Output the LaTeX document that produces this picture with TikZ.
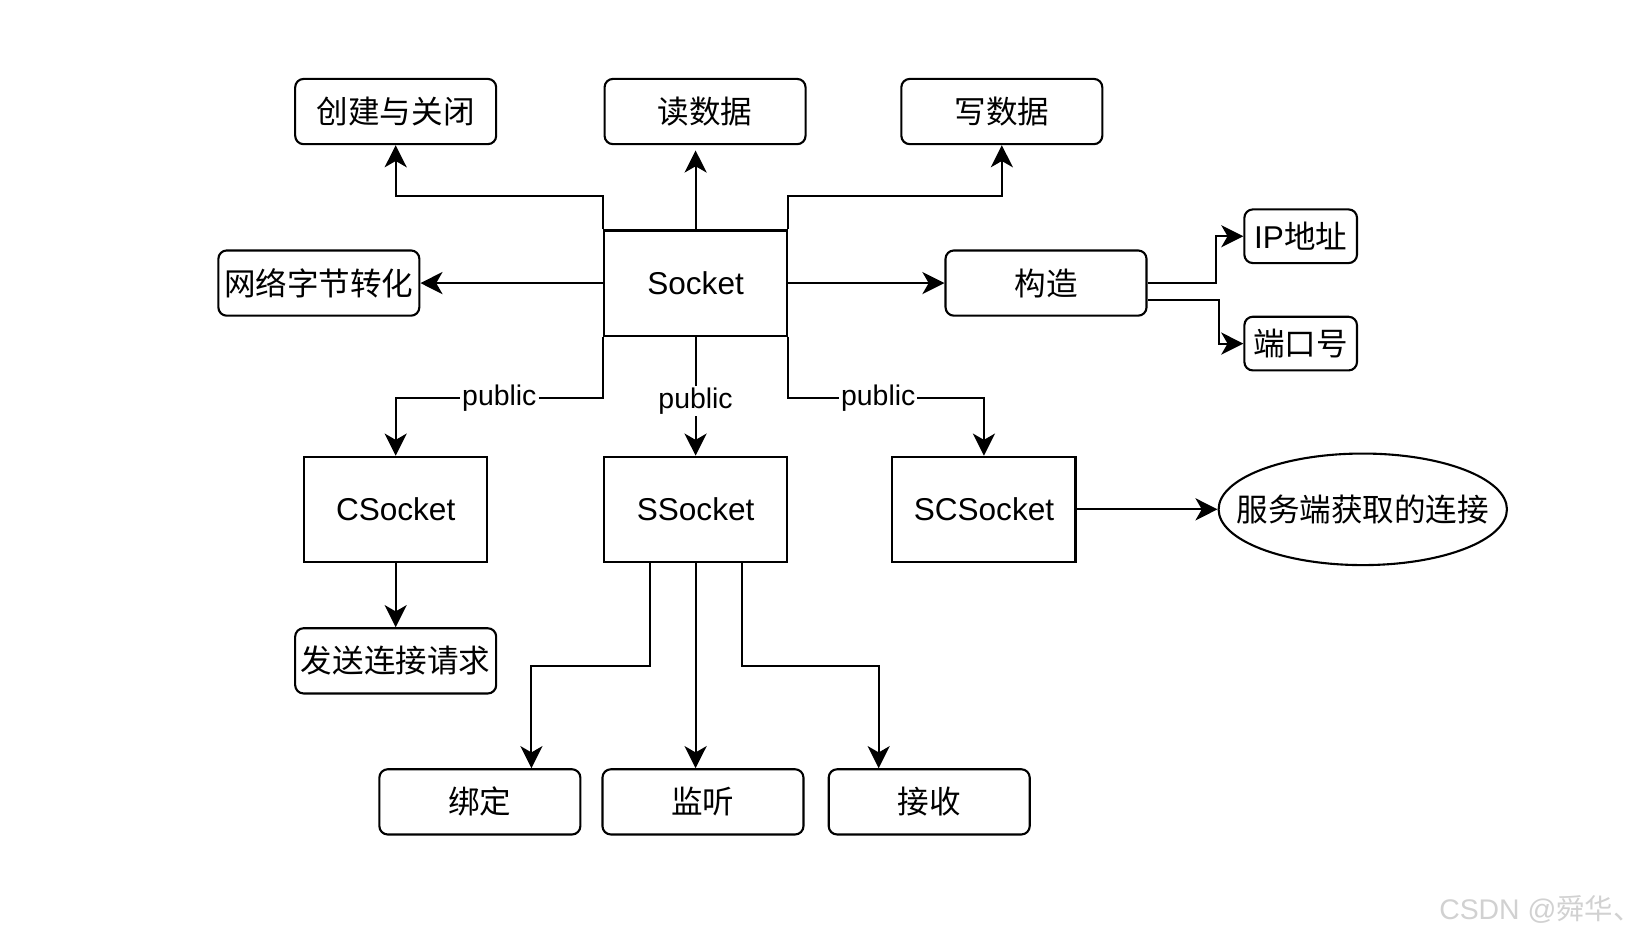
\documentclass[tikz,border=0pt]{standalone}
\usepackage{fontspec}
\setmainfont{Liberation Sans}
\newfontfamily\cjk{Noto Sans CJK SC}
\usetikzlibrary{arrows.meta,shapes.geometric}

\begin{document}
\begin{tikzpicture}[x=0.5pt, y=-0.5pt, line width=1pt,
  >={Stealth[length=10.5pt,width=10.5pt,inset=3pt]},
  rbox/.style={draw, rounded corners=4pt, minimum width=95.5pt, minimum height=31pt, inner sep=0pt, font=\fontsize{15}{18}\selectfont},
  cls/.style={draw, minimum width=87pt, minimum height=50pt, inner sep=0pt, font=\fontsize{15}{18}\selectfont},
  sbox/.style={rbox, minimum width=53.5pt, minimum height=25.5pt},
  lbl/.style={fill=white, inner sep=1pt, font=\fontsize{13.5}{16}\selectfont}]
\useasboundingbox (0,0) rectangle (1567,892);

\node[cls] (sock) at (661,269) {Socket};
\node[rbox] (cjgb) at (376,106) {\cjk 创建与关闭};
\node[rbox] (dsj) at (670,106) {\cjk 读数据};
\node[rbox] (xsj) at (952,106) {\cjk 写数据};
\node[rbox] (wl) at (303,269) {\cjk 网络字节转化};
\node[rbox] (gz) at (994,269) {\cjk 构造};
\node[sbox] (ip) at (1236,224.5) {IP{\cjk 地址}};
\node[sbox] (port) at (1236,326.5) {\cjk 端口号};

\node[cls] (cs) at (376,484) {CSocket};
\node[cls] (ss) at (661,484) {SSocket};
\node[cls] (scs) at (935,484) {SCSocket};
\node[draw, ellipse, minimum width=137pt, minimum height=53pt, inner xsep=-12pt, inner ysep=0pt, font=\fontsize{15}{18}\selectfont] (conn) at (1295,484) {\cjk 服务端获取的连接};

\node[rbox] (send) at (376,628) {\cjk 发送连接请求};
\node[rbox] (bind) at (456,762) {\cjk 绑定};
\node[rbox] (lis) at (668,762) {\cjk 监听};
\node[rbox] (recv) at (883,762) {\cjk 接收};

\draw[->] (sock.north west) -- ++(0,-32) -| (cjgb.south);
\draw[->, shorten >=2.5pt] (sock.north) -- (sock.north |- dsj.south);
\draw[->] (sock.north east) -- ++(0,-32) -| (xsj.south);
\draw[->] (sock.west) -- (wl.east);
\draw[->] (sock.east) -- (gz.west);
\draw[->] (gz.east) -- ++(65,0) |- (ip.west);
\draw[->] ([yshift=-8pt]gz.east) -- ++(68,0) |- (port.west);

\draw[->] (sock.south west) -- ++(0,58) -| node[lbl, pos=0.25] {public} (cs.north);
\draw[->] (sock.south) -- node[lbl, pos=0.54] {public} (ss.north);
\draw[->] (sock.south east) -- ++(0,58) -| node[lbl, pos=0.23] {public} (scs.north);
\draw[->] (scs.east) -- (conn.west);

\draw[->] (cs.south) -- (send.north);
\draw[->] ([xshift=-21.5pt]ss.south) -- ++(0,98) -| ([xshift=24.5pt]bind.north);
\draw[->] (ss.south) -- (ss.south |- lis.north);
\draw[->] ([xshift=22pt]ss.south) -- ++(0,98) -| ([xshift=-24pt]recv.north);

\node[anchor=west, text=black!18, font=\fontsize{13.5}{16}\selectfont] (mark) at (1360,864) {CSDN @{\cjk 舜华、}};
\end{tikzpicture}
\end{document}
